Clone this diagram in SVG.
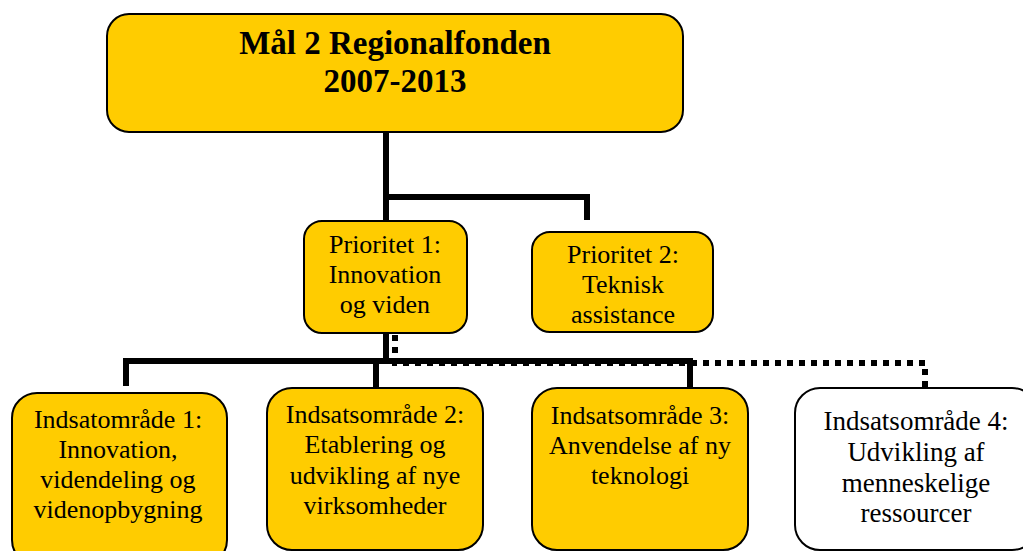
<svg xmlns="http://www.w3.org/2000/svg" width="1023" height="551" viewBox="0 0 1023 551">
<defs>
<style>
.box{fill:#FFCC00;stroke:#000;stroke-width:2}
.wbox{fill:#FFFFFF;stroke:#000;stroke-width:2}
.solid{fill:none;stroke:#000;stroke-width:6}
.dot{fill:none;stroke:#000;stroke-width:6;stroke-dasharray:6 6}
</style>
</defs>
<rect width="1023" height="551" fill="#FFFFFF"/>
<g id="connectors">
<polyline class="solid" points="386,132 386,197 587,197 587,220"/>
<line class="solid" x1="386" y1="194" x2="386" y2="221"/>
<line class="solid" x1="386" y1="333" x2="386" y2="361"/>
<polyline class="dot" points="395,335 395,363 925,363 925,388"/>
<polyline class="solid" points="126,386 126,361 690,361 690,388"/>
<line class="solid" x1="376" y1="361" x2="376" y2="388"/>
</g>
<g id="goal">
<rect class="box" x="107" y="14" width="576" height="118" rx="22"/>
<text x="395" y="54" text-anchor="middle" font-size="33" font-weight="bold" style="font-family:'Liberation Serif',serif">Mål 2 Regionalfonden</text>
<text x="395" y="92" text-anchor="middle" font-size="33" font-weight="bold" style="font-family:'Liberation Serif',serif">2007-2013</text>
</g>
<g id="prio1">
<rect class="box" x="304" y="221" width="163" height="112" rx="18"/>
<text x="385" y="253" text-anchor="middle" font-size="26" style="font-family:'Liberation Serif',serif">Prioritet 1:</text>
<text x="385" y="283" text-anchor="middle" font-size="26" style="font-family:'Liberation Serif',serif">Innovation</text>
<text x="385" y="313" text-anchor="middle" font-size="26" style="font-family:'Liberation Serif',serif">og viden</text>
</g>
<g id="prio2">
<rect class="box" x="532" y="232" width="181" height="100" rx="18"/>
<text x="623" y="263" text-anchor="middle" font-size="26" style="font-family:'Liberation Serif',serif">Prioritet 2:</text>
<text x="623" y="293" text-anchor="middle" font-size="26" style="font-family:'Liberation Serif',serif">Teknisk</text>
<text x="623" y="323" text-anchor="middle" font-size="26" style="font-family:'Liberation Serif',serif">assistance</text>
</g>
<g id="ia1">
<rect class="box" x="12" y="393" width="215" height="172" rx="25"/>
<text x="118" y="428" text-anchor="middle" font-size="26" style="font-family:'Liberation Serif',serif">Indsatområde 1:</text>
<text x="118" y="458" text-anchor="middle" font-size="26" style="font-family:'Liberation Serif',serif">Innovation,</text>
<text x="118" y="488" text-anchor="middle" font-size="26" style="font-family:'Liberation Serif',serif">videndeling og</text>
<text x="118" y="518" text-anchor="middle" font-size="26" style="font-family:'Liberation Serif',serif">videnopbygning</text>
</g>
<g id="ia2">
<rect class="box" x="267" y="388" width="216" height="162" rx="25"/>
<text x="375" y="423" text-anchor="middle" font-size="26" style="font-family:'Liberation Serif',serif">Indsatsområde 2:</text>
<text x="375" y="453" text-anchor="middle" font-size="26" style="font-family:'Liberation Serif',serif">Etablering og</text>
<text x="375" y="484" text-anchor="middle" font-size="26" style="font-family:'Liberation Serif',serif">udvikling af nye</text>
<text x="375" y="514" text-anchor="middle" font-size="26" style="font-family:'Liberation Serif',serif">virksomheder</text>
</g>
<g id="ia3">
<rect class="box" x="532" y="388" width="216" height="162" rx="25"/>
<text x="640" y="424" text-anchor="middle" font-size="26" style="font-family:'Liberation Serif',serif">Indsatsområde 3:</text>
<text x="640" y="454" text-anchor="middle" font-size="26" style="font-family:'Liberation Serif',serif">Anvendelse af ny</text>
<text x="640" y="484" text-anchor="middle" font-size="26" style="font-family:'Liberation Serif',serif">teknologi</text>
</g>
<g id="ia4">
<rect class="wbox" x="795" y="388" width="242" height="162" rx="25"/>
<text x="916" y="430" text-anchor="middle" font-size="27" style="font-family:'Liberation Serif',serif">Indsatsområde 4:</text>
<text x="916" y="461" text-anchor="middle" font-size="27" style="font-family:'Liberation Serif',serif">Udvikling af</text>
<text x="916" y="492" text-anchor="middle" font-size="27" style="font-family:'Liberation Serif',serif">menneskelige</text>
<text x="916" y="522" text-anchor="middle" font-size="27" style="font-family:'Liberation Serif',serif">ressourcer</text>
</g>
</svg>
